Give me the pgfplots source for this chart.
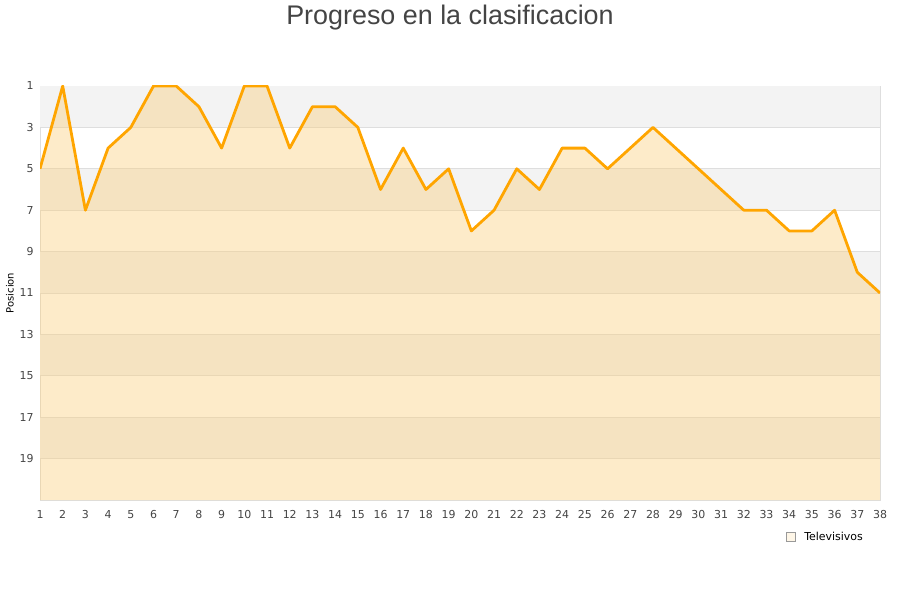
\documentclass[border=0pt]{standalone}
\usepackage{fontspec}
\setmainfont{DejaVu Sans}
\newfontfamily\titlefont{Liberation Sans}
\usepackage{pgfplots}
\pgfplotsset{compat=1.18}
\definecolor{linecol}{RGB}{255,165,0}
\definecolor{areacol}{RGB}{250,205,120}
\definecolor{bandcol}{RGB}{243,243,243}
\definecolor{txtcol}{RGB}{68,68,68}
\definecolor{gridcol}{RGB}{222,222,222}

\begin{document}
\begin{tikzpicture}
\path[use as bounding box] (0,0) rectangle (900bp,600bp);
\node[font=\titlefont\fontsize{27}{30}\selectfont, text=txtcol] at (450bp,582bp) {Progreso en la clasificacion};
\begin{axis}[
    at={(40bp,100bp)}, anchor=south west,
    scale only axis, width=840bp, height=414bp,
    xmin=1, xmax=38, ymin=1, ymax=21, y dir=reverse,
    xtick={1,...,38}, ytick={1,3,...,19},
    major tick length=0,
    axis line style={draw=gridcol, line width=0.8bp},
    ticklabel style={font=\fontsize{11}{13}\selectfont, text=txtcol},
    /pgf/number format/assume math mode=true,
    xticklabel style={yshift=-7bp},
    yticklabel style={xshift=-3bp},
    ylabel={Posicion},
    ylabel style={font=\fontsize{11}{13}\selectfont, text=txtcol},
    every axis y label/.style={at={([xshift=-30bp]axis description cs:0,0.5)}, rotate=90, anchor=center},
    legend style={at={(axis description cs:1,0)}, anchor=east, xshift=-12bp, yshift=-37bp,
        draw=none, fill=none, font=\fontsize{11}{13}\selectfont},
    legend image code/.code={\draw[fill=areacol!45!white, draw=gray!80, line width=0.6bp] (0bp,-4.5bp) rectangle (9bp,4.5bp); \path (16bp,0bp);},
]
% background bands and grid
\fill[bandcol] (axis cs:1,1) rectangle (axis cs:38,3);
\fill[bandcol] (axis cs:1,5) rectangle (axis cs:38,7);
\fill[bandcol] (axis cs:1,9) rectangle (axis cs:38,11);
\fill[bandcol] (axis cs:1,13) rectangle (axis cs:38,15);
\fill[bandcol] (axis cs:1,17) rectangle (axis cs:38,19);
\pgfplotsinvokeforeach{3,5,7,9,11,13,15,17,19}{
  \draw[gridcol, line width=0.8bp] (axis cs:1,#1) -- (axis cs:38,#1);
}
% area under the position line
\addplot[draw=none, fill=areacol, fill opacity=0.4] coordinates {
  (1,21) (1,5) (2,1) (3,7) (4,4) (5,3) (6,1) (7,1) (8,2) (9,4) (10,1)
  (11,1) (12,4) (13,2) (14,2) (15,3) (16,6) (17,4) (18,6) (19,5) (20,8)
  (21,7) (22,5) (23,6) (24,4) (25,4) (26,5) (27,4) (28,3) (29,4) (30,5)
  (31,6) (32,7) (33,7) (34,8) (35,8) (36,7) (37,10) (38,11) (38,21)
} -- cycle;
\addlegendentry{Televisivos}
\addplot[linecol, line width=2.8bp, line join=round, forget plot] coordinates {
  (1,5) (2,1) (3,7) (4,4) (5,3) (6,1) (7,1) (8,2) (9,4) (10,1)
  (11,1) (12,4) (13,2) (14,2) (15,3) (16,6) (17,4) (18,6) (19,5) (20,8)
  (21,7) (22,5) (23,6) (24,4) (25,4) (26,5) (27,4) (28,3) (29,4) (30,5)
  (31,6) (32,7) (33,7) (34,8) (35,8) (36,7) (37,10) (38,11)
};
\end{axis}
\end{tikzpicture}
\end{document}
